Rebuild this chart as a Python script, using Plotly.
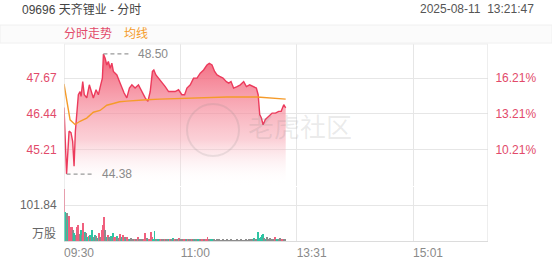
import plotly.graph_objects as go

# ---------------- data ----------------
title_text = "09696 天齐锂业 - 分时"
time_text = "2025-08-11  13:21:47"
legend_price = "分时走势"
legend_avg = "均线"
watermark_text = "老虎社区"
vol_unit = "万股"

prev_close = 41.02
price_ticks = [45.21, 46.44, 47.67]
vol_tick = 101.84
x_tick_vals = [0, 90, 180, 270]
x_tick_text = ["09:30", "11:00", "13:31", "15:01"]
x_end = 328
price_range = [43.97, 48.84]
vol_range = [0, 152.8]

# trading minutes since 09:30 (lunch break removed)
price_min = [0, 2, 3.9, 5.4, 6.7, 7.8, 8.8, 9.8, 11.1, 12.4,
             13.2, 14.5, 15.7, 17.6, 19.6, 21.5, 22.7, 24.8, 26.6, 28.4,
             29.7, 30.5, 31.8, 33.1, 34.3, 35.7, 37, 38.2, 40.9, 42.9,
             44.7, 46.5, 48.6, 50.6, 52.5, 55, 57.6, 60.2, 62.8, 64.9,
             66.7, 68.4, 69.5, 71.1, 73.1, 75.7, 78.3, 80.9, 83.5, 86,
             88.6, 91.2, 93.3, 95.1, 97.7, 100.2, 102.9, 105.4, 108, 110.6,
             112.4, 114.5, 116.5, 118.4, 120.4, 123, 125.6, 127.4, 129.2, 131.2,
             133.9, 136.4, 139, 141.1, 143.6, 146.3, 148.8, 150.2, 151.4, 152.7,
             154, 155.8, 158.4, 161, 163.6, 166.1, 168, 170, 171.5]
price_val = [46.66, 44.38, 45.85, 45.80, 45.50, 44.65, 45.85, 46.53, 47.10, 47.21,
             47.04, 47.55, 47.10, 46.99, 47.44, 47.16, 46.99, 47.27, 47.10, 47.44,
             47.67, 48.50, 48.35, 48.12, 48.24, 48.01, 48.18, 47.90, 47.78, 47.55,
             47.33, 47.16, 46.99, 47.33, 47.44, 47.33, 47.44, 47.21, 46.99, 46.87,
             47.21, 47.90, 47.95, 47.78, 47.67, 47.55, 47.38, 47.21, 47.21, 47.21,
             47.27, 47.10, 47.10, 47.33, 47.44, 47.67, 47.67, 47.84, 47.95, 48.12,
             48.18, 48.12, 47.90, 47.78, 47.73, 47.67, 47.55, 47.50, 47.55, 47.33,
             47.38, 47.44, 47.55, 47.38, 47.44, 47.38, 47.33, 47.10, 46.42, 46.30,
             46.07, 46.25, 46.36, 46.47, 46.47, 46.53, 46.53, 46.76, 46.65]

avg_min = [0, 4.7, 8.5, 12.4, 17.6, 22.7, 27.9, 33.1, 38.2, 43, 48.6, 55, 64, 74,
           100, 126, 149.4, 157, 171.5]
avg_val = [47.47, 46.24, 46.08, 46.19, 46.30, 46.50, 46.56, 46.74, 46.80, 46.86,
           46.88, 46.91, 46.93, 46.95, 46.99, 47.02, 47.02, 47.00, 46.95]

# volume per minute (10k shares); dir: r = up, g = down, n = flat
vol_val = [147, 83, 79, 60, 71, 40, 40, 31, 23, 18,
           40, 45, 20, 31, 18, 52, 26, 23, 12, 14,
           17, 12, 31, 10, 17, 14, 8, 23, 10, 31,
           45, 67, 31, 12, 17, 10, 14, 8, 23, 10,
           12, 14, 8, 20, 6, 10, 17, 10, 7, 12,
           6, 5, 8, 4, 7, 5, 4, 12, 5, 3,
           6, 4, 5, 23, 8, 4, 6, 26, 10, 6,
           29, 5,
           4, 6, 3, 5, 4, 3, 5, 4, 3, 6,
           5, 3, 8, 4, 6, 3, 5, 8, 4, 3,
           6, 7, 3, 4, 5, 3, 4, 7, 3, 5,
           4, 3, 5, 4, 3, 7, 4, 3, 5, 12,
           4, 3, 6, 5, 3, 2, 3, 2, 3, 2,
           2, 3, 2, 2, 3, 2, 2, 3, 2, 2,
           2, 2, 3, 2, 2, 3, 2, 2, 2, 3,
           2, 3, 2, 3, 4, 8, 3, 4,
           25, 8, 12, 17, 19, 8, 6, 12, 6, 9,
           5, 6, 4, 10, 5, 6, 4, 8, 5, 4, 5, 7]
vol_dir = list("rgngrrrngn" "rrngnrgngr" "gngngngrnr" "rrngrngngr"
               "rgnrngrngr" "ngnnnrnrnn" "nnrrngrrrg" "gn"
               "ngnrnnrnng" "rngnrnnrnn" "nrngrnnrng" "nngnnrnnrr"
               "nnggnnnnnn" "nnnnnnnnnn" "nnnnnnnnnn" "nnnnngnn"
               "gggggngnnn" "nnnrngnnnrnn")

# ---------------- style ----------------
FONT = "Liberation Sans, Arial, Noto Sans CJK SC, sans-serif"
RED = "#ec3b5c"
LABEL_RED = "#e24a6a"
ORANGE = "#f59b2a"
GRID = "#e6e6e6"
GRAY = "#8a8a8a"
DIR_COLORS = {"r": "#f0607e", "g": "#2ec4a3", "n": "#8c8c8c"}

PX_T, PX_B = 44, 241          # plot area top / bottom in px
H = PX_B - PX_T
def py(ypx):
    return (PX_B - ypx) / H
def px(xpx):
    return (xpx - 64) / 424

fig = go.Figure()

fig.add_trace(go.Scatter(
    x=price_min, y=price_val, mode="lines",
    line=dict(color=RED, width=1.4),
    fill="tozeroy",
    fillgradient=dict(type="vertical",
                      colorscale=[[0, "rgba(255,255,255,0)"], [0.35, "rgba(248,170,182,0.55)"],
                                  [1, "rgba(240,72,98,0.85)"]],
                      start=price_range[0], stop=max(price_val)),
    xaxis="x", yaxis="y", hoverinfo="skip", showlegend=False))

fig.add_trace(go.Scatter(
    x=avg_min, y=avg_val, mode="lines",
    line=dict(color=ORANGE, width=1.4),
    xaxis="x", yaxis="y", hoverinfo="skip", showlegend=False))

# invisible trace to carry the percentage axis
fig.add_trace(go.Scatter(
    x=price_min, y=price_val, mode="lines", line=dict(color="rgba(0,0,0,0)", width=0),
    xaxis="x", yaxis="y3", hoverinfo="skip", showlegend=False))

fig.add_trace(go.Bar(
    x=list(range(len(vol_val))), y=vol_val,
    marker=dict(color=[DIR_COLORS[d] for d in vol_dir], line=dict(width=0)),
    width=0.75, xaxis="x2", yaxis="y2", hoverinfo="skip", showlegend=False))

pct_text = [f"{(p / prev_close - 1) * 100:.2f}%" for p in price_ticks]

fig.update_layout(
    width=552, height=265,
    margin=dict(l=64, r=64, t=PX_T, b=265 - PX_B, pad=0, autoexpand=False),
    paper_bgcolor="white", plot_bgcolor="white",
    font=dict(family=FONT, size=12, color=GRAY),
    bargap=0,
    xaxis=dict(domain=[0, 1], anchor="y", range=[0, x_end], tickvals=x_tick_vals,
               showticklabels=False, showgrid=True, gridcolor=GRID, gridwidth=1,
               zeroline=False, showline=False, ticks="", automargin=False),
    xaxis2=dict(domain=[0, 1], anchor="y2", range=[0, x_end], matches="x",
                tickvals=x_tick_vals, ticktext=x_tick_text, showgrid=True,
                gridcolor=GRID, zeroline=False, showline=True, linecolor="#dcdcdc",
                ticks="outside", ticklen=1, tickcolor="rgba(0,0,0,0)",
                ticklabelshift=15, tickfont=dict(size=12, color=GRAY), automargin=False),
    yaxis=dict(domain=[py(186), 1], anchor="x", range=price_range,
               tickvals=price_ticks, ticktext=[f"{v:.2f}" for v in price_ticks],
               tickfont=dict(size=12, color=LABEL_RED), showgrid=True, gridcolor=GRID,
               zeroline=False, showline=False, ticks="outside", ticklen=4,
               tickcolor="rgba(0,0,0,0)", automargin=False),
    yaxis3=dict(overlaying="y", side="right", anchor="x", range=price_range,
                tickvals=price_ticks, ticktext=pct_text,
                tickfont=dict(size=12, color=LABEL_RED), showgrid=False,
                zeroline=False, showline=False, ticks="outside", ticklen=4,
                tickcolor="rgba(0,0,0,0)", automargin=False),
    yaxis2=dict(domain=[0, py(187)], anchor="x2", range=vol_range,
                tickvals=[vol_tick], ticktext=[f"{vol_tick:.2f}"],
                tickfont=dict(size=12, color="#666"), showgrid=True, gridcolor=GRID,
                zeroline=False, showline=False, ticks="outside", ticklen=4,
                tickcolor="rgba(0,0,0,0)", automargin=False),
)

i_max = price_val.index(max(price_val))
i_min = price_val.index(min(price_val))

shapes = [
    # legend band
    dict(type="rect", xref="paper", yref="paper", x0=px(0), x1=px(552),
         y0=py(43), y1=py(25), fillcolor="#fbfbfb", line=dict(color="#f0f0f0", width=1),
         layer="below"),
    # borders
    dict(type="line", xref="x", yref="paper", x0=0, x1=0, y0=0, y1=1,
         line=dict(color="#dcdcdc", width=1)),
    dict(type="line", xref="x", yref="paper", x0=x_end, x1=x_end, y0=0, y1=1,
         line=dict(color="#dcdcdc", width=1)),
    dict(type="line", xref="x", yref="paper", x0=0, x1=x_end, y0=1, y1=1,
         line=dict(color="#eeeeee", width=1)),
    # watermark circle
    dict(type="circle", xref="paper", yref="paper", x0=px(187), x1=px(239),
         y0=py(156), y1=py(104), line=dict(color="rgba(130,130,130,0.16)", width=2)),
    # extreme markers (dashed)
    dict(type="line", xref="x", yref="y", xsizemode="pixel", xanchor=price_min[i_max],
         x0=0, x1=28, y0=price_val[i_max], y1=price_val[i_max],
         line=dict(color="#999", width=1.3, dash="4px,3px")),
    dict(type="line", xref="x", yref="y", xsizemode="pixel", xanchor=price_min[i_min],
         x0=0, x1=28, y0=price_val[i_min], y1=price_val[i_min],
         line=dict(color="#999", width=1.3, dash="4px,3px")),
]

annotations = [
    dict(text=title_text, xref="paper", yref="paper", x=px(20), y=py(9),
         xanchor="left", yanchor="middle", showarrow=False,
         font=dict(size=12, color="#444")),
    dict(text=time_text, xref="paper", yref="paper", x=px(536), y=py(9),
         xanchor="right", yanchor="middle", showarrow=False,
         font=dict(size=12, color="#555")),
    dict(text=legend_price, xref="paper", yref="paper", x=px(62), y=py(34),
         xanchor="left", yanchor="middle", showarrow=False,
         font=dict(size=12, color=LABEL_RED)),
    dict(text=legend_avg, xref="paper", yref="paper", x=px(122), y=py(34),
         xanchor="left", yanchor="middle", showarrow=False,
         font=dict(size=12, color=ORANGE)),
    dict(text=f"{price_val[i_max]:.2f}", xref="x", yref="y", x=price_min[i_max],
         y=price_val[i_max], xanchor="left", yanchor="middle", xshift=33,
         showarrow=False, font=dict(size=12, color=GRAY)),
    dict(text=f"{price_val[i_min]:.2f}", xref="x", yref="y", x=price_min[i_min],
         y=price_val[i_min], xanchor="left", yanchor="middle", xshift=33,
         showarrow=False, font=dict(size=12, color=GRAY)),
    dict(text=vol_unit, xref="paper", yref="y2", x=px(58), y=0,
         xanchor="right", yanchor="bottom", yshift=-2, showarrow=False,
         font=dict(size=12, color="#666")),
    dict(text=watermark_text, xref="paper", yref="paper", x=px(246), y=py(128),
         xanchor="left", yanchor="middle", showarrow=False,
         font=dict(size=26, color="rgba(130,130,130,0.16)")),
]

fig.update_layout(shapes=shapes, annotations=annotations)

fig.write_html("out.html")
